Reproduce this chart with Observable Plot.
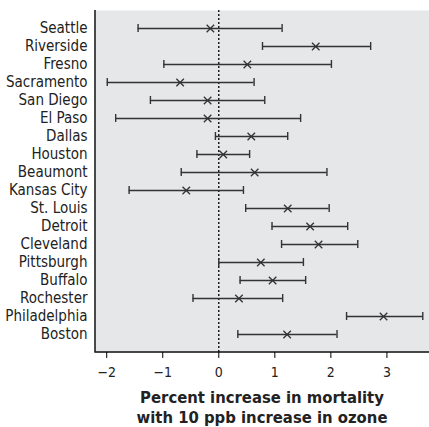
<!DOCTYPE html>
<html><head><meta charset="utf-8">
<script src="https://cdn.jsdelivr.net/npm/d3@7"></script>
<script src="https://cdn.jsdelivr.net/npm/@observablehq/plot@0.6"></script>
<style>
body{margin:0;background:#fff;font-family:"Liberation Sans Narrow","DejaVu Sans Condensed","Arial Narrow",sans-serif;}
#title{width:334px;margin-left:95px;text-align:center;font-weight:bold;font-size:16.5px;line-height:20px;color:#222;margin-top:4px;}
</style></head><body>
<div id="chart"></div>
<div id="title">Percent increase in mortality<br>with 10 ppb increase in ozone</div>
<script>
const cities = ["Seattle","Riverside","Fresno","Sacramento","San Diego","El Paso","Dallas","Houston","Beaumont","Kansas City","St. Louis","Detroit","Cleveland","Pittsburgh","Buffalo","Rochester","Philadelphia","Boston"];
const estimate = [-0.15,1.73,0.51,-0.69,-0.20,-0.20,0.58,0.08,0.64,-0.58,1.23,1.63,1.78,0.75,0.96,0.36,2.94,1.22];
const lower =    [-1.44,0.78,-0.98,-1.99,-1.22,-1.84,-0.06,-0.39,-0.67,-1.60,0.48,0.95,1.12,0.00,0.38,-0.46,2.28,0.34];
const upper =    [1.13,2.71,2.01,0.63,0.82,1.46,1.23,0.55,1.93,0.44,1.97,2.30,2.48,1.51,1.55,1.14,3.64,2.11];
const xTicks = [-2,-1,0,1,2,3];

const data = cities.map((c,i)=>({city:c, est:estimate[i], lo:lower[i], hi:upper[i]}));
const ink = "#333";
// left and bottom border of the plot frame, drawn from Plot's own dimensions
const frameLB = (index, scales, values, dim) => {
  const l = dim.marginLeft, b = dim.height - dim.marginBottom, t = dim.marginTop, r = dim.width - dim.marginRight;
  return d3.create("svg:path")
    .attr("d", `M${l},${t}V${b}H${r}`)
    .attr("fill", "none").attr("stroke", "#111").attr("stroke-width", 1.5).node();
};
const chart = Plot.plot({
  width:429, height:384,
  marginLeft:95, marginRight:0, marginTop:10, marginBottom:32,
  style:{fontFamily:'"Liberation Sans Narrow","DejaVu Sans Condensed","Arial Narrow",sans-serif', background:"#fff"},
  x:{domain:[-2.2,3.76]},
  y:{type:"band", domain:cities, paddingInner:0.57, paddingOuter:0.38},
  marks:[
    Plot.frame({fill:"#e6e7e9", stroke:null}),
    Plot.ruleX([0], {stroke:"#000", strokeDasharray:"2,2", strokeWidth:1.3}),
    Plot.ruleY(data, {y:"city", x1:"lo", x2:"hi", stroke:ink, strokeWidth:1.4}),
    Plot.tickX(data, {x:"lo", y:"city", stroke:ink, strokeWidth:1.4}),
    Plot.tickX(data, {x:"hi", y:"city", stroke:ink, strokeWidth:1.4}),
    Plot.dot(data, {x:"est", y:"city", symbol:"times", r:3.5, stroke:ink, strokeWidth:1.3}),
    frameLB,
    Plot.axisY({tickSize:0, tickPadding:8, fontSize:15, fill:"#222", label:null}),
    Plot.axisX({ticks:xTicks, tickFormat:d3.format("d"), tickSize:6, tickPadding:9, fontSize:14, fill:"#222", label:null})
  ]
});
document.getElementById("chart").append(chart);
</script>
</body></html>
